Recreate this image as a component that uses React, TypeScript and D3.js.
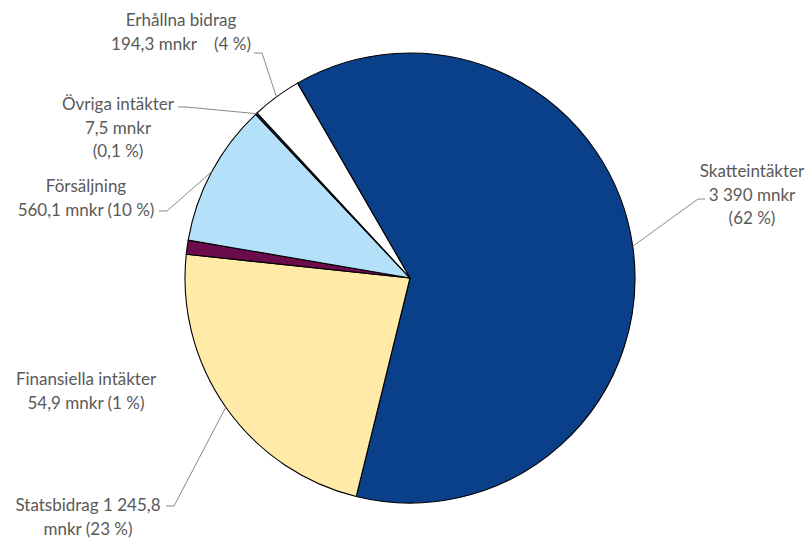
import React from "react";
import * as d3 from "d3";

const categories = ["Skatteintäkter", "Statsbidrag", "Finansiella intäkter", "Försäljning", "Övriga intäkter", "Erhållna bidrag"];
const values = [3390, 1245.8, 54.9, 560.1, 7.5, 194.3];
const colors = ["#0a3f8a", "#ffeaa7", "#6c0c4c", "#b4e0f9", "#1a2a50", "#ffffff"];

// label lines per category (text content)
const labelLines: string[][] = [
  ["Skatteintäkter", "3 390 mnkr", "(62 %)"],
  ["Statsbidrag 1 245,8", "mnkr (23 %)"],
  ["Finansiella intäkter", "54,9 mnkr (1 %)"],
  ["Försäljning", "560,1 mnkr (10 %)"],
  ["Övriga intäkter", "7,5 mnkr", "(0,1 %)"],
  ["Erhållna bidrag", "194,3 mnkr    (4 %)"],
];

// layout: label centre x, first baseline y, leader start (null = no leader)
const labelLayout = [
  { x: 752, y: 177, leader: [[705, 199], [698, 199]] },
  { x: 88, y: 511, leader: [[166, 506], [174, 506]] },
  { x: 86, y: 385, leader: null },
  { x: 86, y: 192, leader: [[159, 211], [167, 211]] },
  { x: 118, y: 110, leader: [[178, 107], [186, 107]] },
  { x: 181, y: 26, leader: [[254, 53], [262, 53]] },
];

const W = 809, H = 538;
const cx = 410, cy = 278, R = 225;
const lineH = 23.5;

export default function App() {
  const pie = d3.pie<number>().sort(null).value((d) => d)
    .startAngle(-30 * Math.PI / 180).endAngle(330 * Math.PI / 180);
  const arcs = pie(values);
  const arc = d3.arc<d3.PieArcDatum<number>>().innerRadius(0).outerRadius(R);

  return (
    <svg width={W} height={H} style={{ position: "absolute", left: 0, top: 0, background: "#fff" }}
      fontFamily="Lato, 'Open Sans', sans-serif">
      <g transform={`translate(${cx},${cy})`}>
        {arcs.map((a, i) => (
          <path key={i} d={arc(a) || ""} fill={colors[i]} stroke="#000" strokeWidth={1.1} strokeLinejoin="round" />
        ))}
      </g>
      {arcs.map((a, i) => {
        const lay = labelLayout[i];
        if (!lay.leader) return null;
        const mid = (a.startAngle + a.endAngle) / 2;
        const ex = cx + R * Math.sin(mid);
        const ey = cy - R * Math.cos(mid);
        const pts = [...lay.leader, [ex, ey]];
        return (
          <polyline key={"l" + i} points={pts.map((p) => p.join(",")).join(" ")} fill="none" stroke="#8a8a8a" strokeWidth={1} />
        );
      })}
      {labelLines.map((lines, i) => {
        const lay = labelLayout[i];
        return (
          <text key={"t" + i} fill="#595959" fontSize={17} textAnchor="middle" xmlSpace="preserve" style={{ whiteSpace: "pre" }}>
            {lines.map((ln, j) => (
              <tspan key={j} x={lay.x} y={lay.y + j * lineH}>{ln}</tspan>
            ))}
          </text>
        );
      })}
      <text x={0} y={0} fontSize={1} fill="none">{categories.join(",")}</text>
    </svg>
  );
}
